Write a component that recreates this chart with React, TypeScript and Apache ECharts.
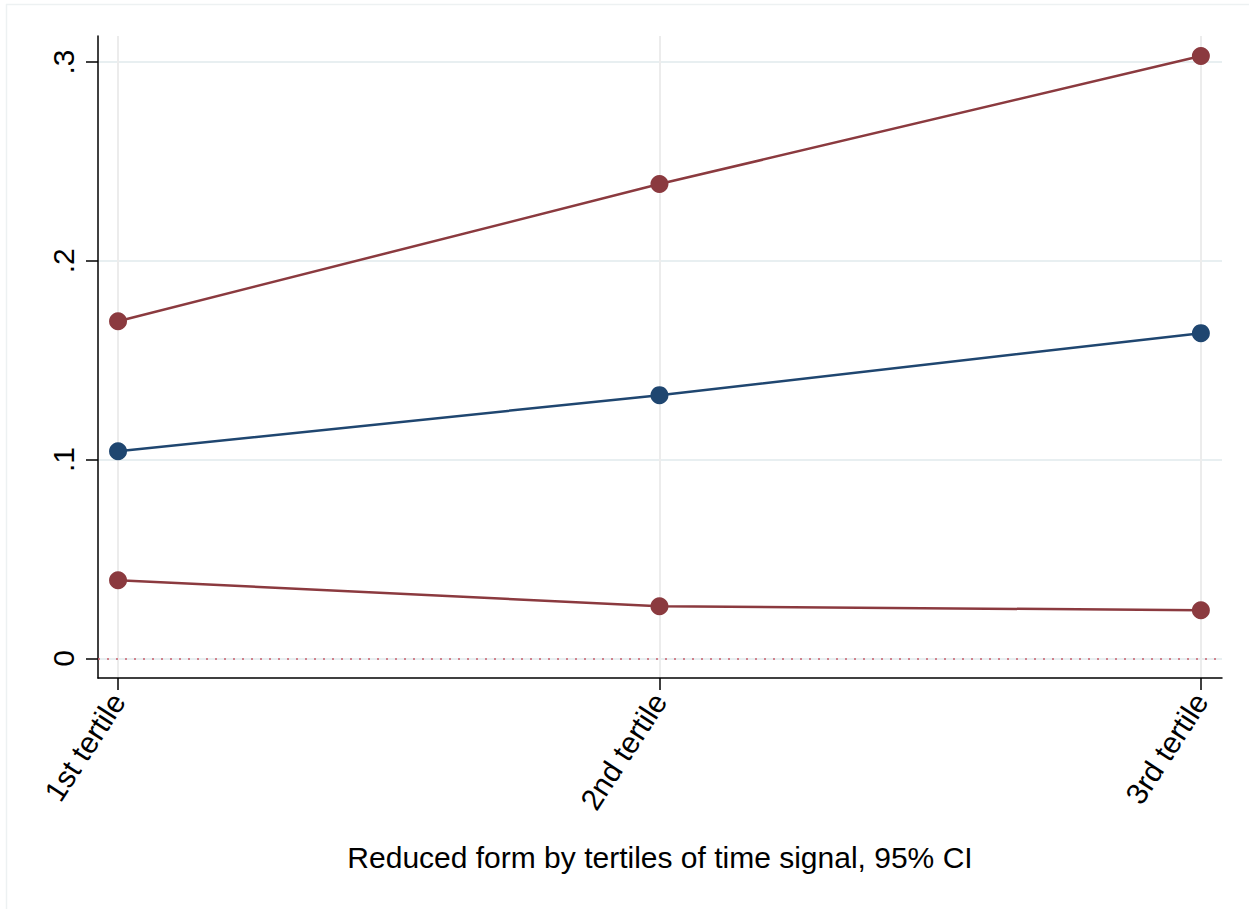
import React, { useEffect, useRef } from "react";
import * as echarts from "echarts";

const categories = ["1st tertile", "2nd tertile", "3rd tertile"];
const upperCI = [0.1696, 0.2386, 0.303];
const estimate = [0.1042, 0.1324, 0.1636];
const lowerCI = [0.0393, 0.0262, 0.0242];
const yTicks = [0, 0.1, 0.2, 0.3];
const yTickLabels = ["0", ".1", ".2", ".3"];
const xTitle = "Reduced form by tertiles of time signal, 95% CI";

const MAROON = "#8b3a3f";
const NAVY = "#1f4670";
const FONT = "Liberation Sans, Arial, Helvetica, sans-serif";

export default function App() {
  const ref = useRef<HTMLDivElement>(null);
  useEffect(() => {
    if (!ref.current) return;
    const chart = echarts.init(ref.current, undefined, { renderer: "svg" });
    const mk = (vals: number[]) => vals.map((v, i) => [i, v]);
    const lineSeries = (name: string, vals: number[], color: string, z: number) => ({
      name,
      type: "line",
      data: mk(vals),
      symbol: "circle",
      symbolSize: 18,
      z,
      lineStyle: { color, width: 2.5 },
      itemStyle: { color },
    });
    chart.setOption({
      animation: false,
      backgroundColor: "#ffffff",
      graphic: [
        {
          type: "line",
          shape: { x1: 6, y1: 4.5, x2: 1249, y2: 4.5 },
          style: { stroke: "#edf1f2", lineWidth: 1.5 },
          silent: true,
        },
        {
          type: "line",
          shape: { x1: 6.5, y1: 4, x2: 6.5, y2: 909 },
          style: { stroke: "#edf1f2", lineWidth: 1.5 },
          silent: true,
        },
      ],
      grid: { left: 98, right: 27, top: 36, bottom: 231 },
      xAxis: {
        type: "value",
        min: -0.037,
        max: 2.039,
        name: xTitle,
        nameLocation: "middle",
        nameGap: 164,
        nameTextStyle: { fontFamily: FONT, fontSize: 30, color: "#000" },
        axisLine: { show: true, onZero: false, lineStyle: { color: "#000", width: 1.5 } },
        axisTick: {
          show: true,
          customValues: [0, 1, 2],
          length: 12,
          lineStyle: { color: "#000", width: 1.5 },
        },
        axisLabel: {
          customValues: [0, 1, 2],
          formatter: (v: number) => categories[Math.round(v)] ?? "",
          rotate: 57,
          margin: 18,
          fontFamily: FONT,
          fontSize: 30,
          color: "#000",
        },
        splitLine: { show: true, lineStyle: { color: "#ececec", width: 2 } },
      },
      yAxis: {
        type: "value",
        min: -0.0099,
        max: 0.3131,
        axisLine: { show: true, onZero: false, lineStyle: { color: "#000", width: 1.5 } },
        axisTick: {
          show: true,
          customValues: yTicks,
          length: 12,
          lineStyle: { color: "#000", width: 1.5 },
        },
        axisLabel: {
          customValues: yTicks,
          formatter: (v: number) => {
            const i = yTicks.findIndex((t) => Math.abs(t - v) < 1e-6);
            return i >= 0 ? yTickLabels[i] : "";
          },
          rotate: 90,
          margin: 20,
          fontFamily: FONT,
          fontSize: 30,
          color: "#000",
        },
        splitLine: { show: true, lineStyle: { color: "#e8eff1", width: 2 } },
      },
      series: [
        {
          ...lineSeries("Upper CI", upperCI, MAROON, 3),
          markLine: {
            silent: true,
            symbol: "none",
            label: { show: false },
            lineStyle: { color: "#c8606c", type: [2, 7], width: 1.5 },
            data: [{ yAxis: 0 }],
          },
        },
        lineSeries("Estimate", estimate, NAVY, 4),
        lineSeries("Lower CI", lowerCI, MAROON, 3),
      ],
    });
    return () => chart.dispose();
  }, []);
  return (
    <div
      ref={ref}
      style={{ position: "fixed", left: 0, top: 0, width: 1249, height: 909 }}
    />
  );
}
